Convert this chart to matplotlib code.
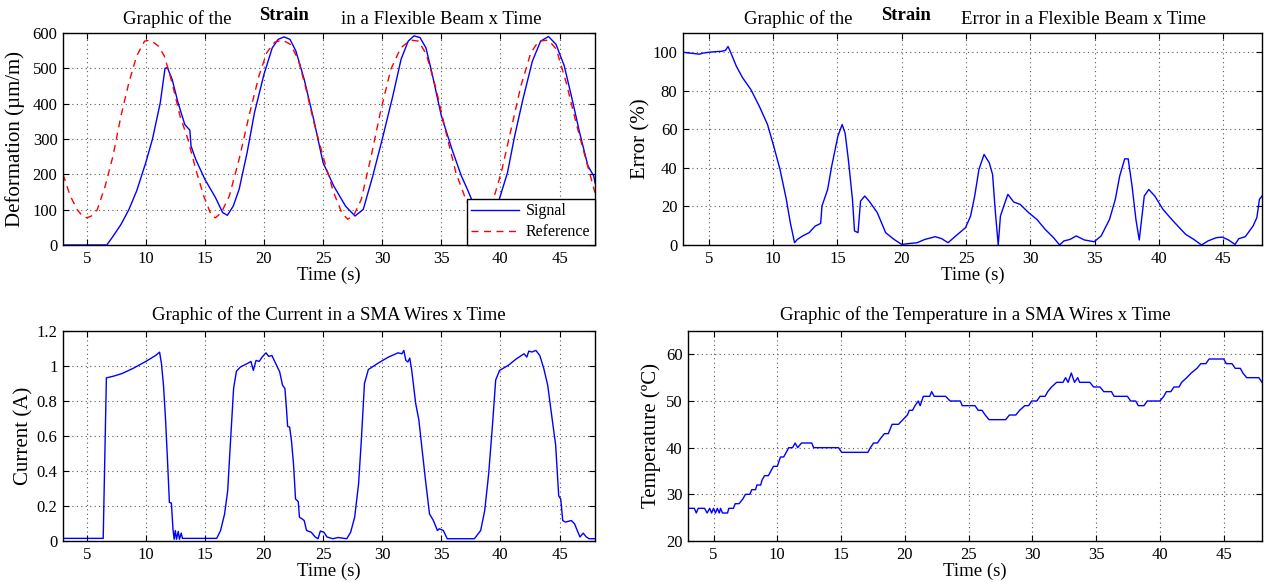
import matplotlib
matplotlib.use("Agg")
import matplotlib.pyplot as plt

plt.rcParams["font.family"] = ["Liberation Serif", "DejaVu Serif"]

# strain signal (um/m) vs time (s)
sig_t = [3, 6.7, 7.2, 7.9, 8.57, 9.23, 10, 10.57, 11.23, 11.63, 11.83, 12.23, 12.73, 13.3,
         13.73, 13.83, 14.23, 15, 15.9, 16.5, 16.9, 17.4, 17.9, 18.57, 19.2, 20, 20.7, 21.2,
         21.7, 22.2, 22.7, 23.4, 24.2, 25, 25.9, 26.9, 27.7, 28.4, 29.2, 30, 30.9, 31.6, 32.2,
         32.7, 33.2, 33.7, 34.2, 35, 35.9, 36.7, 37.2, 37.8, 38.4, 39.1, 39.9, 40.6, 41.2,
         41.9, 42.7, 43.4, 44.07, 44.7, 45.4, 46.07, 46.7, 47.4, 47.9, 48]
sig_v = [0, 0, 23, 58, 100, 153, 233, 300, 403, 500, 502, 469, 403, 341,
         325, 280, 242, 186, 134, 92, 84, 110, 158, 261, 375, 483, 558, 582,
         589, 582, 549, 469, 356, 233, 167, 110, 82, 101, 195, 299, 422, 526, 577,
         592, 587, 558, 488, 366, 271, 195, 158, 110, 85, 92, 129, 205, 308,
         412, 520, 577, 590, 568, 507, 412, 318, 224, 195, 176]

# strain reference
ref_t = [3, 3.6, 4.2, 4.7, 5, 5.4, 5.9, 6.57, 7.23, 7.9, 8.57, 9.23, 9.9, 10.4, 11.07, 11.57,
         12.23, 12.9, 13.57, 14.23, 14.9, 15.57, 15.9, 16.4, 17.07, 17.9, 18.73, 19.57,
         20.23, 20.9, 21.57, 22.23, 22.9, 23.57, 24.23, 25.07, 25.9, 26.57, 27.07, 27.57,
         28.23, 29.07, 29.9, 30.73, 31.57, 32.4, 33.07, 33.73, 34.57, 35.4, 36.23, 37.07,
         37.7, 38.3, 38.9, 39.4, 40.07, 40.9, 41.73, 42.57, 43.23, 44.07, 44.73, 45.57,
         46.4, 47.23, 48]
ref_v = [200, 140, 100, 80, 77, 82, 100, 167, 252, 365, 459, 535, 577, 580, 563, 535,
         459, 365, 299, 214, 139, 82, 77, 92, 139, 243, 365, 478,
         544, 574, 580, 568, 525, 440, 346, 242, 148, 92, 73, 82,
         129, 252, 384, 497, 558, 580, 577, 540, 440, 318, 205, 129,
         90, 77, 90, 129, 205, 327, 450, 544, 577, 580, 554, 459,
         346, 242, 148]

# strain error (%)
err_t = [3, 3.5, 4.3, 4.5, 5, 5.5, 6, 6.3, 6.5, 6.67, 7.15, 7.64, 8.28, 8.93, 9.57, 10.05,
         10.54, 11.03, 11.34, 11.67, 11.89, 12.3, 12.8, 13.27, 13.7, 13.8, 14.24, 14.56,
         15.04, 15.37, 15.6, 15.85, 16.17, 16.33, 16.6, 16.8, 17.13, 17.46, 18.1, 18.75,
         19.4, 20, 20.5, 21.2, 21.8, 22.6, 23.1, 23.6, 24.2, 24.96, 25.35, 25.67, 26, 26.4,
         26.8, 27.06, 27.28, 27.5, 27.67, 27.93, 28.25, 28.7, 29.2, 29.86, 30.5, 31.15,
         31.8, 32.27, 32.6, 33.08, 33.56, 34.2, 34.96, 35.5, 36.15, 36.6, 36.94, 37.33,
         37.6, 37.9, 38.2, 38.46, 38.85, 39.2, 39.67, 40.3, 41.1, 42.07, 42.7, 43.3, 43.8,
         44.45, 44.9, 45.4, 45.9, 46.2, 46.7, 47.3, 47.6, 47.8, 48]
err_v = [100, 99.6, 99, 99.5, 100, 100.3, 100.5, 101, 103, 100.5, 92.7, 86.7, 80.6, 72, 62.5, 51.3,
         39.2, 23.7, 11.6, 1.2, 2.9, 4.7, 6.4, 9.8, 11.2, 20.2, 28.8, 41,
         56.5, 62.5, 58, 44.4, 23.7, 7.3, 6.4, 22.8, 25.4, 22.8, 16.8, 6.4,
         2.9, 0.3, 0.7, 1.2, 2.9, 4.3, 3.3, 1.2, 4.7, 9, 15, 25.4, 39.2, 47,
         42.7, 36.6, 16.8, 0, 15, 20.2, 26.3, 22.3, 21.1, 16.8, 13.3, 8.1,
         3.8, 0, 2.1, 2.9, 4.7, 2.6, 1.7, 4.7, 13.3, 23.7, 35.8, 44.7,
         44.7, 30.6, 13.3, 2.6, 25.4, 28.8, 25.4, 18.5, 12.4, 5.5, 2.9, 0, 2.1,
         3.8, 4.1, 2.6, 0.3, 3.3, 4.3, 9.8, 14.2, 23.7, 25.4]

# SMA current (A)
cur_t = [3, 6.4, 6.67, 7.33, 8, 9, 10, 10.83, 11.17, 11.33, 11.5, 11.67, 11.83, 12, 12.17,
         12.3, 12.4, 12.5, 12.6, 12.75, 12.85, 13.0, 13.1, 16, 16.33, 16.67, 16.93, 17.17,
         17.43, 17.67, 18, 18.67, 18.9, 19.1, 19.33, 19.6, 19.83, 20.17, 20.4, 20.67, 21,
         21.33, 21.57, 21.77, 21.9, 22, 22.17, 22.33, 22.5, 22.67, 22.9, 23, 23.23, 23.4,
         23.6, 24, 24.33, 24.57, 24.77, 25.07, 25.33, 25.83, 26.27, 27, 27.33, 27.67, 28,
         28.23, 28.5, 28.83, 29.67, 30.5, 31.33, 31.67, 31.83, 32, 32.17, 32.33, 32.5,
         32.83, 33.1, 33.33, 33.67, 34, 34.33, 34.67, 34.83, 35.17, 35.5, 37.8, 38.33,
         38.67, 39, 39.33, 39.6, 39.93, 40.67, 41.33, 42, 42.23, 42.4, 42.67, 43, 43.33,
         43.67, 44, 44.33, 44.67, 44.93, 45.1, 45.27, 45.5, 46, 46.27, 46.5, 46.73, 47,
         47.27, 47.5, 48]
cur_v = [0.015, 0.015, 0.932, 0.943, 0.957, 0.989, 1.026, 1.06, 1.079, 1.013, 0.89, 0.7, 0.475, 0.22, 0.217,
         0.07, 0.01, 0.06, 0.01, 0.055, 0.01, 0.045, 0.015, 0.015, 0.06, 0.155, 0.287, 0.57,
         0.872, 0.97, 0.994, 1.017, 1.026, 0.975, 1.032, 1.026, 1.05, 1.075, 1.055, 1.06, 1.013,
         0.966, 0.89, 0.872, 0.758, 0.655, 0.651, 0.57, 0.438, 0.24, 0.225, 0.136, 0.126, 0.117,
         0.06, 0.05, 0.023, 0.013, 0.057, 0.05, 0.023, 0.013, 0.02, 0.013, 0.05, 0.136, 0.325,
         0.57, 0.9, 0.98, 1.017, 1.05, 1.075, 1.07, 1.089, 1.032, 1.023, 1.045, 0.975,
         0.787, 0.692, 0.55, 0.343, 0.155, 0.117, 0.06, 0.07, 0.06, 0.013, 0.013, 0.06,
         0.174, 0.38, 0.664, 0.92, 0.975, 1.004, 1.04, 1.07, 1.051, 1.085, 1.08, 1.089, 1.06,
         0.985, 0.89, 0.72, 0.55, 0.258, 0.24, 0.117, 0.108, 0.117, 0.098, 0.06, 0.023, 0.045,
         0.023, 0.013, 0.013]

# SMA temperature (C)
tmp_t = [3, 3.5, 3.65, 3.8, 4.3, 4.5, 4.7, 4.85, 5.0, 5.15, 5.3, 5.45, 5.55, 5.7, 6.1, 6.2,
         6.56, 6.7, 7.0, 7.3, 7.5, 7.85, 8, 8.3, 8.4, 8.7, 8.8, 9, 9.3, 9.5, 9.7, 10, 10.25,
         10.5, 10.7, 10.9, 11.2, 11.4, 11.6, 11.9, 12.7, 12.85, 14.8, 15.05, 17.1, 17.3,
         17.55, 17.85, 18.1, 18.4, 18.7, 19, 19.5, 19.85, 20.2, 20.35, 20.6, 20.8, 21.05,
         21.2, 21.45, 21.95, 22.1, 22.3, 23.2, 23.55, 24.35, 24.5, 25.5, 25.75, 26.05, 26.3,
         26.6, 27.9, 28.2, 28.7, 29, 29.4, 29.7, 29.95, 30.35, 30.6, 31, 31.2, 31.5, 31.9,
         32.4, 32.6, 32.8, 33.05, 33.3, 33.55, 33.7, 34.5, 34.8, 35.3, 35.6, 36.2, 36.4,
         37.45, 37.7, 38.1, 38.3, 38.75, 39, 40, 40.3, 40.5, 40.85, 41.1, 41.5, 41.7, 42.1,
         42.45, 42.9, 43.2, 43.6, 43.85, 45, 45.2, 45.65, 45.9, 46.3, 46.5, 46.8, 47.75, 48]
tmp_v = [27, 27, 26, 27, 27, 26, 27, 26, 27, 26, 27, 26, 27, 26, 26, 27,
         27, 28, 28, 29, 30, 30, 31, 31, 32, 32, 33, 34, 34, 35, 36, 36, 38,
         38, 39, 40, 40, 41, 40, 41, 41, 40, 40, 39, 39, 40,
         41, 41, 42, 43, 43, 45, 45, 46, 47, 48, 48, 49, 50,
         49, 51, 51, 52, 51, 51, 50, 50, 49, 49, 48, 48, 47,
         46, 46, 47, 47, 48, 49, 49, 50, 50, 51, 51, 52, 53, 54,
         54, 55, 54, 56, 54, 55, 54, 54, 53, 53, 52, 52, 51,
         51, 50, 50, 49, 49, 50, 50, 51, 52, 52, 53, 53, 54, 55,
         56, 57, 58, 58, 59, 59, 58, 58, 57, 57, 56, 55, 55, 54]

W, H = 1267, 582
fig = plt.figure(figsize=(W / 100, H / 100), dpi=100)


def make_ax(x0, y_top, x1, y_bot, ylabel, ylab_x):
    ax = fig.add_axes([x0 / W, 1 - y_bot / H, (x1 - x0) / W, (y_bot - y_top) / H])
    ax.tick_params(direction="in", top=True, right=True, labelsize=12, length=4, pad=4)
    ax.grid(True, linestyle=(0, (1, 3)), color="0.35", lw=0.8)
    for s in ax.spines.values():
        s.set_linewidth(1.0)
    ax.set_xlim(3, 48)
    ax.set_xticks(range(5, 46, 5))
    ax.set_xlabel("Time (s)", fontsize=13.5, labelpad=0)
    ax.set_ylabel(ylabel, fontsize=15, va="center")
    ax.yaxis.set_label_coords((ylab_x - x0) / (x1 - x0), 0.5)
    return ax


blue = "#0000ff"

# strain
ax1 = make_ax(63, 33, 595, 245, "Deformation (\u00b5m/m)", 15)
ax1.plot(sig_t, sig_v, color=blue, lw=1.0, label="Signal")
ax1.plot(ref_t, ref_v, "--", color="red", lw=1.0, dashes=(5, 4), label="Reference")
ax1.set_ylim(0, 600)
ax1.set_yticks(range(0, 601, 100))
leg = ax1.legend(loc="lower right", fontsize=11.5, fancybox=False, framealpha=1,
                 edgecolor="black", borderaxespad=0, handlelength=3.0, borderpad=0.3,
                 labelspacing=0.3, handletextpad=0.4)
leg.get_frame().set_linewidth(1.0)

# strain error
ax2 = make_ax(683, 33, 1262, 245, "Error (%)", 641)
ax2.plot(err_t, err_v, color=blue, lw=1.0)
ax2.set_ylim(0, 110)
ax2.set_yticks(range(0, 101, 20))

# current
ax3 = make_ax(63, 331, 595, 541, "Current (A)", 24)
ax3.plot(cur_t, cur_v, color=blue, lw=1.0)
ax3.set_ylim(0, 1.2)
ax3.set_yticks([0, 0.2, 0.4, 0.6, 0.8, 1, 1.2])
ax3.set_yticklabels(["0", "0.2", "0.4", "0.6", "0.8", "1", "1.2"])
ax3.set_title("Graphic of the Current in a SMA Wires x Time", fontsize=13.5, pad=8)

# temperature
ax4 = make_ax(688, 331, 1262, 541, "Temperature (\u00baC)", 651)
ax4.plot(tmp_t, tmp_v, color=blue, lw=1.0)
ax4.set_ylim(20, 65)
ax4.set_yticks(range(20, 61, 10))
ax4.set_title("Graphic of the Temperature in a SMA Wires x Time", fontsize=13.5, pad=8)

# split titles with bold "Strain"
for x_a, x_b, x_c, rest in [(177, 284, 441, "in a Flexible Beam x Time"),
                            (798, 906, 1083, "Error in a Flexible Beam x Time")]:
    fig.text(x_a / W, 1 - 19 / H, "Graphic of the", ha="center", va="center", fontsize=13.5)
    fig.text(x_b / W, 1 - 15 / H, "Strain", ha="center", va="center", fontsize=13.5,
             fontweight="bold")
    fig.text(x_c / W, 1 - 19 / H, rest, ha="center", va="center", fontsize=13.5)

fig.savefig("out.png", dpi=100)
